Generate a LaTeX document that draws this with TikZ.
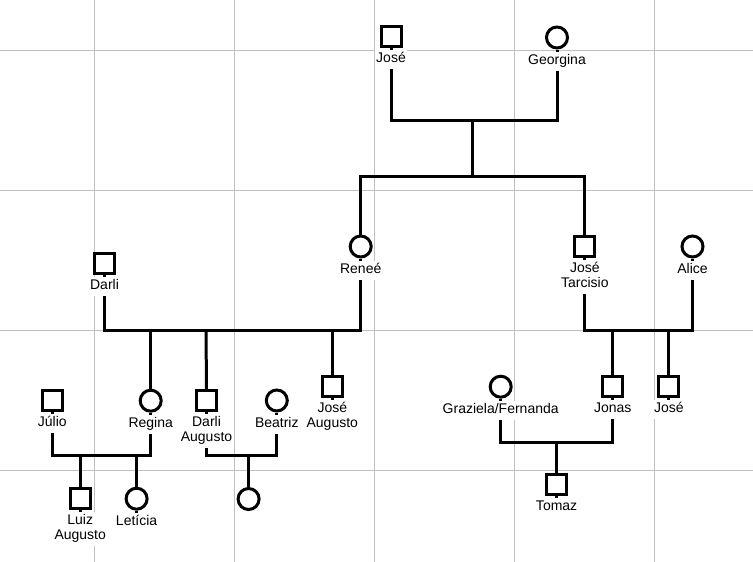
\documentclass[tikz,border=0pt]{standalone}
\usepackage{fontspec}
\setmainfont{Liberation Sans}
\usetikzlibrary{positioning}
\tikzset{
  gridline/.style={draw=black!25, line width=1pt},
  conn/.style={draw=black, line width=3pt},
  sq/.style={draw=black, line width=3pt, fill=white, rectangle, minimum size=20pt, inner sep=0pt},
  ci/.style={draw=black, line width=3pt, fill=white, circle, minimum size=21pt, inner sep=0pt},
  lbl/.style={fill=white, inner xsep=1pt, inner ysep=2pt,
     font=\fontsize{14pt}{15pt}\selectfont, align=center,
     execute at begin node=\strut, execute at end node=\strut},
}
\begin{document}
\begin{tikzpicture}[x=1pt,y=-1pt]
\useasboundingbox (0,0) rectangle (753,562);
\fill[white] (0,0) rectangle (753,562);
% grid
\foreach \gx in {94,234,374,514,654} \draw[gridline] (\gx,0) -- (\gx,562);
\foreach \gy in {50,190,330,470} \draw[gridline] (0,\gy) -- (753,\gy);

% junction points
\coordinate (m1) at (472,120);
\coordinate (c1) at (472,176);
\coordinate (m2) at (206,330.3);
\coordinate (m3) at (108,455.7);
\coordinate (m4) at (248.6,455.7);
\coordinate (m5) at (640,330.3);
\coordinate (m6) at (556.6,442.7);

% people
\node[sq] (jose1) at (391,36.3) {};
\node[ci] (georg) at (557,37.5) {};
\node[ci] (renee) at (360.7,246.5) {};
\node[sq] (tarc) at (584.8,246.3) {};
\node[ci] (alice) at (692.5,246.5) {};
\node[sq] (darli) at (104.5,263) {};
\node[ci] (regina) at (150.7,400.7) {};
\node[sq] (dau) at (206.5,400.3) {};
\node[ci] (beatriz) at (276.8,400.5) {};
\node[sq] (jaug) at (332.3,386.3) {};
\node[sq] (julio) at (52.3,400.3) {};
\node[sq] (luiz) at (80.2,498.7) {};
\node[ci] (leticia) at (136.6,498.7) {};
\node[ci] (baby) at (248.6,499) {};
\node[ci] (grazi) at (500.7,386.7) {};
\node[sq] (jonas) at (612.8,386.3) {};
\node[sq] (jose2) at (668.8,386.3) {};
\node[sq] (tomaz) at (556.6,484) {};

% stubs under symbols, then labels
\foreach \p/\t in {jose1/José, georg/Georgina, renee/Reneé, tarc/{José\\Tarcisio}, alice/Alice,
   darli/Darli, regina/Regina, dau/{Darli\\Augusto}, beatriz/Beatriz, jaug/{José\\Augusto},
   julio/Júlio, luiz/{Luiz\\Augusto}, leticia/Letícia, grazi/{Graziela/Fernanda}, jonas/Jonas,
   jose2/José, tomaz/Tomaz} {
  \draw[conn] (\p.south) -- ++(0,3);
  \node[lbl, below=2pt of \p] (\p-l) {\t};
}

% connectors
\draw[conn] (jose1-l.south) |- (m1) -| (georg-l.south);
\draw[conn] (m1) -- (c1);
\draw[conn] (renee.north) |- (c1) -| (tarc.north);

\draw[conn] (darli-l.south) |- (m2) -| (renee-l.south);
\draw[conn] (regina.north |- m2) -- (regina.north);
\draw[conn] (m2) -- (dau.north);
\draw[conn] (jaug.north |- m2) -- (jaug.north);

\draw[conn] (julio-l.south) |- (m3) -| (regina-l.south);
\draw[conn] (luiz.north |- m3) -- (luiz.north);
\draw[conn] (leticia.north |- m3) -- (leticia.north);

\draw[conn] (dau-l.south) |- (m4) -| (beatriz-l.south);
\draw[conn] (m4) -- (baby.north);

\draw[conn] (tarc-l.south) |- (m5) -| (alice-l.south);
\draw[conn] (jonas.north |- m5) -- (jonas.north);
\draw[conn] (jose2.north |- m5) -- (jose2.north);

\draw[conn] (grazi-l.south) |- (m6) -| (jonas-l.south);
\draw[conn] (m6) -- (tomaz.north);
\end{tikzpicture}
\end{document}
